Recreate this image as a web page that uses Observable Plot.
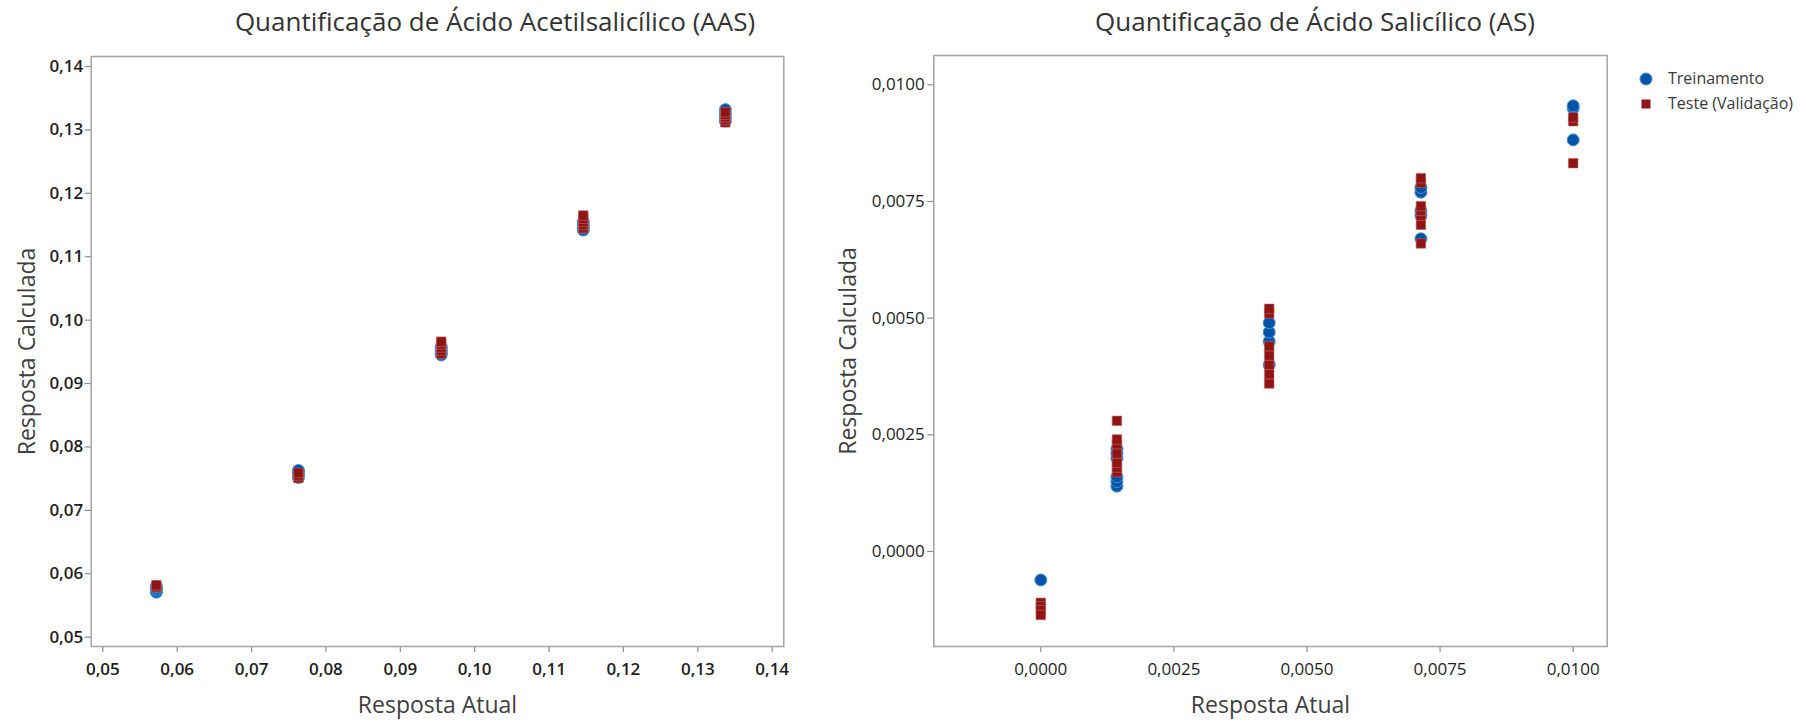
<!DOCTYPE html>
<html>
<head>
<meta charset="utf-8">
<script src="https://cdn.jsdelivr.net/npm/d3@7"></script>
<script src="https://cdn.jsdelivr.net/npm/@observablehq/plot@0.6"></script>
<style>
  html, body { margin: 0; padding: 0; background: #fff; }
  #root { position: relative; width: 1816px; height: 725px; overflow: hidden; background: #fff; font-family: "Open Sans", sans-serif; }
  .panel { position: absolute; top: 0; }
  .title { position: absolute; top: 8px; transform: translateX(-50%); white-space: nowrap; font-size: 26px; line-height: 1; color: #333; }
  #legend { position: absolute; left: 1636px; top: 66px; font-size: 16px; color: #3a3a3a; line-height: 25px; }
  #legend .item { display: flex; align-items: center; height: 25px; }
  #legend svg { width: 20px; height: 20px; margin-right: 12px; }
</style>
</head>
<body>
<div id="root">
  <div class="panel" id="left"></div>
  <div class="panel" id="right"></div>
  <div class="title" id="t1" style="left:495px"></div>
  <div class="title" id="t2" style="left:1315px"></div>
  <div id="legend"></div>
</div>
<script>
// ---------- data ----------
const titulos = ["Quantificação de Ácido Acetilsalicílico (AAS)", "Quantificação de Ácido Salicílico (AS)"];
const rotuloX = "Resposta Atual";
const rotuloY = "Resposta Calculada";
const series = ["Treinamento", "Teste (Validação)"];

// AAS panel
const aasNiveis = [0.0572, 0.0763, 0.0955, 0.1146, 0.1337];
const aasTreino = [
  [0.0571, 0.0574, 0.0577, 0.0580],
  [0.0752, 0.0756, 0.0760, 0.0763],
  [0.0945, 0.0948, 0.0951, 0.0955, 0.0958],
  [0.1142, 0.1146, 0.1150, 0.1155],
  [0.1314, 0.1320, 0.1326, 0.1332]
];
const aasTeste = [
  [0.0579, 0.0582],
  [0.0751, 0.0755, 0.0759],
  [0.0947, 0.0952, 0.0957, 0.0962, 0.0966],
  [0.1145, 0.1150, 0.1155, 0.1160, 0.1165],
  [0.1312, 0.1316, 0.1320, 0.1324, 0.1328]
];
const aasTicks = [0.05, 0.06, 0.07, 0.08, 0.09, 0.10, 0.11, 0.12, 0.13, 0.14];

// AS panel
const asNiveis = [0, 0.00143, 0.00429, 0.00714, 0.01];
const asTreino = [
  [-0.00061],
  [0.0014, 0.0015, 0.0016, 0.0020, 0.0021, 0.0022],
  [0.0040, 0.0045, 0.0047, 0.0049],
  [0.0067, 0.0072, 0.0073, 0.0077, 0.0078],
  [0.00882, 0.00950, 0.00955]
];
const asTeste = [
  [-0.00110, -0.00118, -0.00126, -0.00136],
  [0.0017, 0.0018, 0.0019, 0.0021, 0.0023, 0.0024, 0.0028],
  [0.0036, 0.0038, 0.0040, 0.0042, 0.0044, 0.0051, 0.0052],
  [0.0066, 0.0070, 0.0072, 0.0073, 0.0074, 0.0079, 0.0080],
  [0.00832, 0.00922, 0.00930]
];
const asTicks = [0, 0.0025, 0.005, 0.0075, 0.01];

// ---------- style ----------
const AZUL = "#0354a6", AZUL_BORDA = "#4a8fd8";
const VERMELHO = "#8f1414", VERMELHO_BORDA = "#c46a6a";

const fmt = n => d => d.toFixed(n).replace(".", ",");
const pontos = (niveis, grupos) => niveis.flatMap((x, i) => grupos[i].map(y => ({x, y})));

function painel({niveis, treino, teste, xDomain, yDomain, ticks, decimais, width, margins, peso, yLabelOffset, yTickPadding}) {
  const svg = Plot.plot({
    width, height: 725,
    ...margins,
    style: {fontFamily: "'Open Sans', sans-serif", fontSize: "17px", color: "#1e1e1e", background: "transparent", overflow: "visible"},
    x: {domain: xDomain, ticks, tickFormat: fmt(decimais), tickSize: 6, tickPadding: 10,
        label: rotuloX, labelAnchor: "center", labelOffset: 66, labelArrow: false},
    y: {domain: yDomain, ticks, tickFormat: fmt(decimais), tickSize: 6, tickPadding: yTickPadding,
        label: rotuloY, labelAnchor: "center", labelOffset: yLabelOffset, labelArrow: false},
    marks: [
      Plot.frame({stroke: "#a3a3a3", strokeWidth: 1.5}),
      Plot.dot(pontos(niveis, treino), {x: "x", y: "y", symbol: "circle", r: 6, fill: AZUL, stroke: AZUL_BORDA, strokeWidth: 1}),
      Plot.dot(pontos(niveis, teste), {x: "x", y: "y", symbol: "square", r: 5.4, fill: VERMELHO, stroke: VERMELHO_BORDA, strokeWidth: 0.6})
    ]
  });
  const s = d3.select(svg);
  s.selectAll('[aria-label="x-axis tick"], [aria-label="y-axis tick"]').attr("stroke", "#8c8c8c").attr("stroke-width", 1.2);
  s.selectAll('[aria-label="x-axis tick label"], [aria-label="y-axis tick label"]').attr("font-weight", peso).attr("fill", "#1e1e1e");
  s.selectAll('[aria-label="x-axis label"], [aria-label="y-axis label"]').attr("font-size", "23px").attr("fill", "#404040").attr("font-weight", 400);
  return svg;
}

document.getElementById("left").appendChild(painel({
  niveis: aasNiveis, treino: aasTreino, teste: aasTeste,
  xDomain: [0.04844, 0.14156], yDomain: [0.04853, 0.14158],
  ticks: aasTicks, decimais: 2, width: 800,
  margins: {marginLeft: 90.7, marginTop: 56, marginRight: 16.7, marginBottom: 79},
  peso: 600, yLabelOffset: 73, yTickPadding: 2
}));

const right = document.getElementById("right");
right.style.left = "820px";
right.appendChild(painel({
  niveis: asNiveis, treino: asTreino, teste: asTeste,
  xDomain: [-0.00201, 0.010639], yDomain: [-0.002036, 0.010628],
  ticks: asTicks, decimais: 4, width: 820,
  margins: {marginLeft: 113.3, marginTop: 55, marginRight: 33.3, marginBottom: 79},
  peso: 400, yLabelOffset: 94, yTickPadding: 3
}));

document.getElementById("t1").textContent = titulos[0];
document.getElementById("t2").textContent = titulos[1];

// legend
const leg = document.getElementById("legend");
series.forEach((nome, i) => {
  const item = document.createElement("div");
  item.className = "item";
  const ns = "http://www.w3.org/2000/svg";
  const sv = document.createElementNS(ns, "svg");
  sv.setAttribute("viewBox", "-10 -10 20 20");
  const sym = i === 0 ? document.createElementNS(ns, "circle") : document.createElementNS(ns, "rect");
  if (i === 0) { sym.setAttribute("r", 6); sym.setAttribute("fill", AZUL); sym.setAttribute("stroke", AZUL_BORDA); }
  else { sym.setAttribute("x", -4.5); sym.setAttribute("y", -4.5); sym.setAttribute("width", 9); sym.setAttribute("height", 9); sym.setAttribute("fill", VERMELHO); }
  sv.appendChild(sym);
  item.appendChild(sv);
  const tx = document.createElement("span");
  tx.textContent = nome;
  item.appendChild(tx);
  leg.appendChild(item);
});
</script>
</body>
</html>
